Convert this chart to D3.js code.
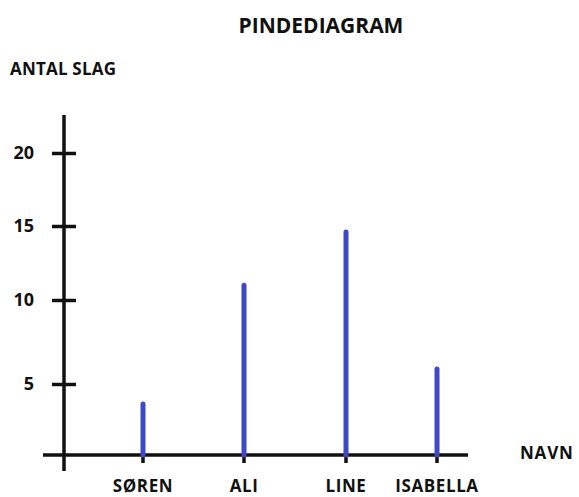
<!DOCTYPE html>
<html>
<head>
<meta charset="utf-8">
<script src="https://cdn.jsdelivr.net/npm/d3@7"></script>
<style>
  body { margin: 0; background: #fff; }
  svg text { font-family: "Open Sans", sans-serif; font-weight: 700; fill: #111; }
</style>
</head>
<body>
<div class="chart"></div>
<script>
// Data
const names = ["SØREN", "ALI", "LINE", "ISABELLA"];
const slag = [3.6, 11, 14.6, 5.9];
const yTicks = [5, 10, 15, 20];

let width = 579;
let height = 497;

let svg = d3.select(".chart").append("svg")
    .attr("width", width)
    .attr("height", height);

// y scale, the hand drawn ticks are not evenly spaced
const yScale = d3.scaleLinear()
    .domain([0, 5, 10, 15, 20])
    .range([455, 384, 300, 226, 153]);

// x positions in the sketch are not evenly spaced either
const xIndex = d3.scaleLinear()
    .domain([0, 1, 2, 3])
    .range([143, 244, 346, 437]);
const xScale = d => xIndex(names.indexOf(d));

const x0 = 64;

// axis lines, drawn longer than the data like in the sketch
svg.append("line")
    .attr("x1", x0).attr("x2", x0)
    .attr("y1", 115).attr("y2", 471)
    .attr("stroke", "#111").attr("stroke-width", 3.5);

svg.append("line")
    .attr("x1", 43).attr("x2", 468)
    .attr("y1", yScale(0)).attr("y2", yScale(0))
    .attr("stroke", "#111").attr("stroke-width", 3.5);

// y ticks crossing the axis
let yAxis = svg.append("g")
    .attr("transform", `translate(${x0},0)`)
    .call(d3.axisLeft(yScale).tickValues(yTicks).tickSize(12).tickPadding(18));
yAxis.select(".domain").remove();
yAxis.selectAll(".tick line")
    .attr("x1", -12).attr("x2", 12)
    .attr("stroke", "#111").attr("stroke-width", 3.5);
yAxis.selectAll(".tick text")
    .attr("font-size", 18).attr("font-weight", 600)
    .attr("font-family", "Open Sans, sans-serif")
    .attr("fill", "#111");

// x ticks and names
let xAxis = svg.append("g")
    .attr("transform", `translate(0,${yScale(0)})`);
let xTicks = xAxis.selectAll(".tick")
    .data(names)
    .enter()
    .append("g")
    .attr("class", "tick")
    .attr("transform", d => `translate(${xScale(d)},0)`);
xTicks.append("line")
    .attr("y2", 8)
    .attr("stroke", "#111").attr("stroke-width", 3.5);
xTicks.append("text")
    .attr("y", 37)
    .attr("text-anchor", "middle")
    .attr("font-size", 17)
    .attr("letter-spacing", 0.6)
    .text(d => d);

// the pins
svg.selectAll(".pin")
    .data(names)
    .enter()
    .append("line")
    .attr("class", "pin")
    .attr("x1", d => xScale(d))
    .attr("x2", d => xScale(d))
    .attr("y1", yScale(0))
    .attr("y2", (d, i) => yScale(slag[i]))
    .attr("stroke", "#3f48c6")
    .attr("stroke-width", 5)
    .attr("stroke-linecap", "round");

// titles
svg.append("text")
    .attr("x", 321).attr("y", 33)
    .attr("text-anchor", "middle")
    .attr("font-size", 21)
    .text("PINDEDIAGRAM");

svg.append("text")
    .attr("x", 10).attr("y", 75)
    .attr("font-size", 17)
    .attr("letter-spacing", 0.2)
    .text("ANTAL SLAG");

svg.append("text")
    .attr("x", 520).attr("y", 459)
    .attr("font-size", 17)
    .attr("letter-spacing", 0.8)
    .text("NAVN");
</script>
</body>
</html>
